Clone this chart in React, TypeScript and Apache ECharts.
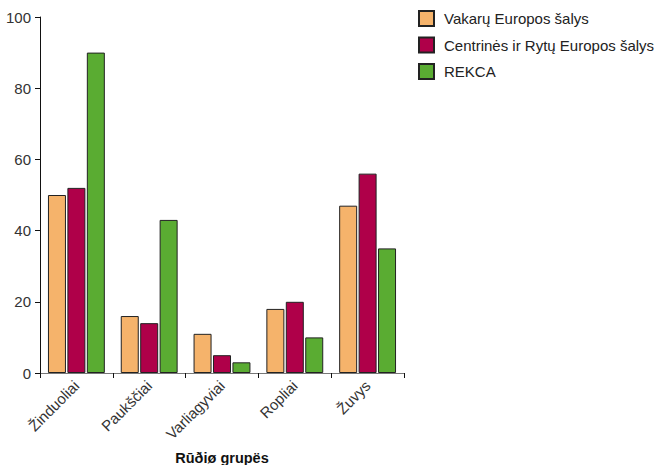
import React, { useEffect, useRef } from "react";
import * as echarts from "echarts";

const categories = ["Žinduoliai", "Paukščiai", "Varliagyviai", "Ropliai", "Žuvys"];
const seriesNames = ["Vakarų Europos šalys", "Centrinės ir Rytų Europos šalys", "REKCA"];
const western = [50, 16, 11, 18, 47];
const centralEastern = [52, 14, 5, 20, 56];
const rekca = [90, 43, 3, 10, 35];
const colors = ["#F5B36B", "#AF0049", "#5AAC32"];
const yTicks = { min: 0, max: 100, interval: 20 };
const xAxisName = "Rūðiø grupës";

export default function App() {
  const ref = useRef<HTMLDivElement>(null);
  useEffect(() => {
    if (!ref.current) return;
    const chart = echarts.init(ref.current, null, { renderer: "svg" });
    const font = "'Liberation Sans', Arial, sans-serif";
    const mk = (name: string, data: number[], i: number) => ({
      name,
      type: "bar",
      data,
      barWidth: 18,
      barGap: "8%",
      itemStyle: { color: colors[i], borderColor: "#222", borderWidth: 1 },
    });
    chart.setOption({
      animation: false,
      textStyle: { fontFamily: font },
      grid: { left: 40, right: 252, top: 17, bottom: 92, outerBoundsMode: "none", containLabel: false },
      legend: {
        orient: "vertical",
        left: 413,
        top: 5,
        itemWidth: 15,
        itemHeight: 15,
        itemGap: 9.5,
        icon: "rect",
        textStyle: { fontSize: 15, lineHeight: 15, color: "#222", fontFamily: font, padding: [0, 0, 0, 5] },
        data: seriesNames,
      },
      xAxis: {
        type: "category",
        data: categories,
        name: xAxisName,
        nameLocation: "middle",
        nameGap: 77,
        nameTextStyle: { fontSize: 14.5, fontWeight: "bold", color: "#111", fontFamily: font },
        axisLine: { lineStyle: { color: "#777", width: 1 } },
        axisTick: { show: true, alignWithLabel: false, length: 5, lineStyle: { color: "#111" } },
        axisLabel: { rotate: 45, fontSize: 15, color: "#333", margin: 10, interval: 0, fontFamily: font },
      },
      yAxis: {
        type: "value",
        min: yTicks.min,
        max: yTicks.max,
        interval: yTicks.interval,
        splitLine: { show: false },
        axisLine: { show: true, lineStyle: { color: "#111", width: 1 } },
        axisTick: { show: true, length: 5, lineStyle: { color: "#111" } },
        axisLabel: { fontSize: 15, color: "#333", margin: 9, fontFamily: font },
      },
      series: [
        mk(seriesNames[0], western, 0),
        mk(seriesNames[1], centralEastern, 1),
        mk(seriesNames[2], rekca, 2),
      ],
    });
    return () => chart.dispose();
  }, []);
  return (
    <div
      ref={ref}
      style={{ width: 656, height: 465, position: "absolute", left: 0, top: 0, background: "#fff" }}
    />
  );
}
